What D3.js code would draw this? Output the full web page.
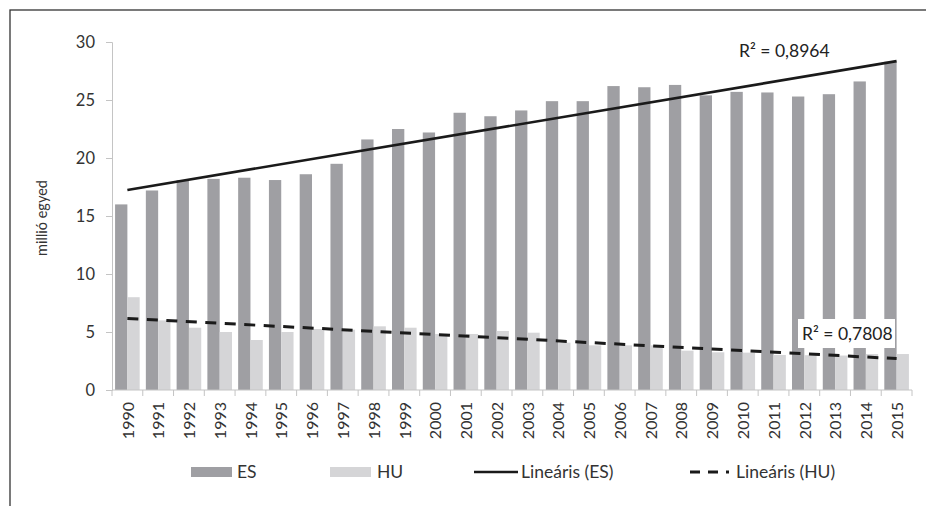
<!DOCTYPE html>
<html>
<head>
<meta charset="utf-8">
<script src="https://cdn.jsdelivr.net/npm/d3@7"></script>
<style>
  body { margin: 0; background: #fff; }
  svg { display: block; font-family: Lato, "Open Sans", sans-serif; }
</style>
</head>
<body>
<div id="chart"></div>
<script>
const years = ["1990","1991","1992","1993","1994","1995","1996","1997","1998","1999","2000","2001","2002",
  "2003","2004","2005","2006","2007","2008","2009","2010","2011","2012","2013","2014","2015"];
const esValues = [16.0, 17.2, 18.1, 18.2, 18.3, 18.1, 18.6, 19.5, 21.6, 22.5, 22.2, 23.9, 23.6,
  24.1, 24.9, 24.9, 26.2, 26.1, 26.3, 25.4, 25.7, 25.65, 25.3, 25.5, 26.6, 28.3];
const huValues = [8.0, 6.0, 5.37, 5.0, 4.31, 5.0, 5.26, 5.2, 5.49, 5.37, 4.83, 4.83, 5.09,
  4.94, 4.08, 3.85, 3.85, 3.85, 3.39, 3.25, 3.22, 3.02, 3.0, 2.97, 3.1, 3.1];
const yTicks = [0, 5, 10, 15, 20, 25, 30];
const seriesNames = ["ES", "HU", "Lineáris (ES)", "Lineáris (HU)"];
const r2Labels = ["R² = 0,8964", "R² = 0,7808"];

const width = 926, height = 506;
const margin = { left: 112, right: 14, top: 42, bottom: 116 };

const svg = d3.select("#chart").append("svg")
  .attr("width", width)
  .attr("height", height);

// outer frame (cut off on the right and bottom like the scan)
svg.append("rect")
  .attr("x", 10).attr("y", 10)
  .attr("width", 940).attr("height", 520)
  .attr("fill", "none")
  .attr("stroke", "#333")
  .attr("stroke-width", 1.3);

const x = d3.scaleBand()
  .domain(years)
  .range([margin.left, width - margin.right])
  .paddingInner(0.2)
  .paddingOuter(0.1);

const y = d3.scaleLinear()
  .domain([0, 30])
  .range([height - margin.bottom, margin.top]);

const sub = d3.scaleBand()
  .domain(["ES", "HU"])
  .range([0, x.bandwidth()]);

const colors = { ES: "#9f9fa3", HU: "#d5d5d7" };

// y axis
const yAxis = svg.append("g")
  .attr("transform", `translate(${margin.left},0)`)
  .call(d3.axisLeft(y).tickValues(yTicks).tickSize(6).tickPadding(11));
yAxis.select(".domain").attr("stroke", "#c4c4c4");
yAxis.selectAll(".tick line").attr("stroke", "#c4c4c4");
yAxis.selectAll(".tick text")
  .attr("font-size", 16.5)
  .attr("fill", "#333")
  .attr("font-family", "Lato, sans-serif");

svg.append("text")
  .attr("transform", `translate(47,${(y(0) + y(30)) / 2 + 2}) rotate(-90)`)
  .attr("text-anchor", "middle")
  .attr("font-size", 14.5)
  .attr("fill", "#333")
  .text("millió egyed");

// bars
const groups = svg.append("g").selectAll("g")
  .data(years)
  .enter().append("g")
  .attr("transform", d => `translate(${x(d)},0)`);

groups.append("rect")
  .attr("x", sub("ES"))
  .attr("width", sub.bandwidth())
  .attr("y", (d, i) => y(esValues[i]))
  .attr("height", (d, i) => y(0) - y(esValues[i]))
  .attr("fill", colors.ES);

groups.append("rect")
  .attr("x", sub("HU"))
  .attr("width", sub.bandwidth())
  .attr("y", (d, i) => y(huValues[i]))
  .attr("height", (d, i) => y(0) - y(huValues[i]))
  .attr("fill", colors.HU);

// x axis line and boundary ticks
svg.append("line")
  .attr("x1", margin.left).attr("x2", width - margin.right)
  .attr("y1", y(0)).attr("y2", y(0))
  .attr("stroke", "#c4c4c4");

const step = x.step();
const x0 = x(years[0]) - x.paddingOuter() * step;
svg.append("g").selectAll("line")
  .data(d3.range(years.length + 1))
  .enter().append("line")
  .attr("x1", i => x0 + i * step)
  .attr("x2", i => x0 + i * step)
  .attr("y1", y(0))
  .attr("y2", y(0) + 6)
  .attr("stroke", "#c4c4c4");

// x labels
svg.append("g").selectAll("text")
  .data(years)
  .enter().append("text")
  .attr("transform", d => `translate(${x(d) + x.bandwidth() / 2 + 0.5},${y(0) + 12}) rotate(-90)`)
  .attr("text-anchor", "end")
  .attr("dy", "0.36em")
  .attr("font-size", 16)
  .attr("fill", "#333")
  .text(d => d);

// linear trend lines (least squares over category index)
function linFit(vals) {
  const n = vals.length;
  const idx = d3.range(n);
  const mx = d3.mean(idx), my = d3.mean(vals);
  const b = d3.sum(idx, i => (i - mx) * (vals[i] - my)) / d3.sum(idx, i => (i - mx) * (i - mx));
  const a = my - b * mx;
  return i => a + b * i;
}
const esFit = linFit(esValues);
const huFit = linFit(huValues);
const cx = i => x(years[i]) + x.bandwidth() / 2;
const last = years.length - 1;

svg.append("line")
  .attr("x1", cx(0)).attr("y1", y(esFit(0)))
  .attr("x2", cx(last)).attr("y2", y(esFit(last)))
  .attr("stroke", "#1a1a1a")
  .attr("stroke-width", 2.6);

svg.append("line")
  .attr("x1", cx(0)).attr("y1", y(huFit(0)))
  .attr("x2", cx(last)).attr("y2", y(huFit(last)))
  .attr("stroke", "#1a1a1a")
  .attr("stroke-width", 3)
  .attr("stroke-dasharray", "11,8.5");

// R² labels
svg.append("text")
  .attr("x", 739).attr("y", 57)
  .attr("font-size", 17.5)
  .attr("fill", "#222")
  .text(r2Labels[0]);

svg.append("rect")
  .attr("x", 798).attr("y", 319)
  .attr("width", 97).attr("height", 29)
  .attr("fill", "#fff");
svg.append("text")
  .attr("x", 802).attr("y", 340)
  .attr("font-size", 17.5)
  .attr("fill", "#222")
  .text(r2Labels[1]);

// legend
const legY = 472;
const leg = svg.append("g").attr("font-size", 17.5).attr("fill", "#333");

leg.append("rect").attr("x", 191).attr("y", legY - 5).attr("width", 41).attr("height", 10).attr("fill", colors.ES);
leg.append("text").attr("x", 237).attr("y", legY).attr("dy", "0.35em").text(seriesNames[0]);

leg.append("rect").attr("x", 330).attr("y", legY - 5).attr("width", 41).attr("height", 10).attr("fill", colors.HU);
leg.append("text").attr("x", 377).attr("y", legY).attr("dy", "0.35em").text(seriesNames[1]);

leg.append("line").attr("x1", 474).attr("x2", 518).attr("y1", legY).attr("y2", legY)
  .attr("stroke", "#1a1a1a").attr("stroke-width", 2.6);
leg.append("text").attr("x", 521).attr("y", legY).attr("dy", "0.35em").text(seriesNames[2]);

leg.append("line").attr("x1", 690).attr("x2", 729).attr("y1", legY).attr("y2", legY)
  .attr("stroke", "#1a1a1a").attr("stroke-width", 3).attr("stroke-dasharray", "10,8");
leg.append("text").attr("x", 736).attr("y", legY).attr("dy", "0.35em").text(seriesNames[3]);
</script>
</body>
</html>
